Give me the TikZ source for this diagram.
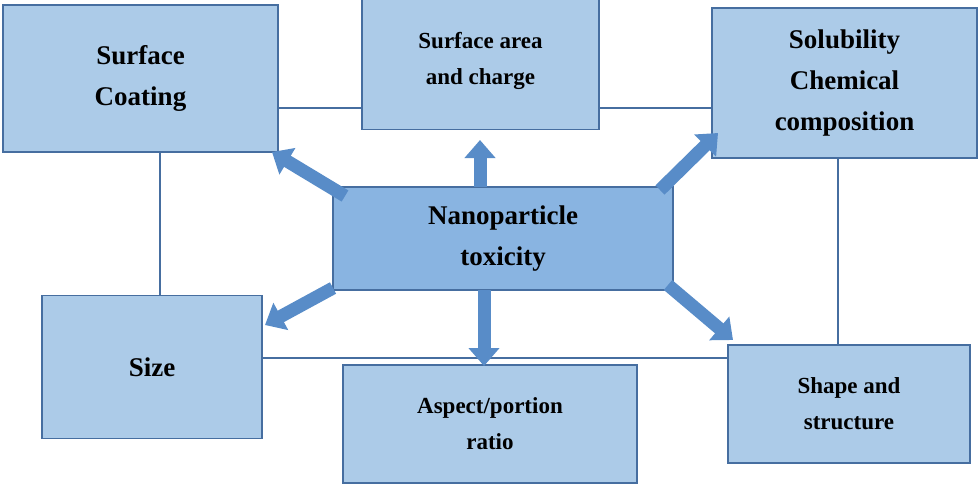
\documentclass[tikz,border=0pt]{standalone}
\usepackage{fontspec}
\setmainfont{Liberation Serif}
\usetikzlibrary{arrows.meta}
\definecolor{boxfill}{RGB}{172,203,232}
\definecolor{midfill}{RGB}{137,180,225}
\definecolor{boxline}{RGB}{70,110,160}
\definecolor{arr}{RGB}{88,140,200}
\tikzset{
 bx/.style={draw=boxline,line width=1.5pt,fill=boxfill,align=center,font=\bfseries\fontsize{27}{41}\selectfont},
 sm/.style={font=\bfseries\fontsize{23}{36}\selectfont},
 ln/.style={draw=boxline,line width=1.5pt},
 ar/.style={draw=arr,line width=13pt,-{Triangle[length=18pt,width=30pt]}}
}
\begin{document}
\begin{tikzpicture}[x=1pt,y=-1pt]
\useasboundingbox (0,0) rectangle (980,488);
\coordinate (c1) at (160,152); \coordinate (c2) at (160,310);
\coordinate (d1) at (838,155); \coordinate (d2) at (838,345);
\draw[ln] (278,108) -- (362,108);
\draw[ln] (599,108) -- (712,108);
\draw[ln] (c1) -- (c2);
\draw[ln] (d1) -- (d2);
\draw[ln] (262,358) -- (728,358);
\node[bx,minimum width=275,minimum height=147] (sc) at (140.5,78.5) {Surface\\Coating};
\node[bx,sm,minimum width=237,minimum height=137] (sa) at (480.5,61) {Surface area\\and charge};
\node[bx,minimum width=265,minimum height=150] (so) at (844.5,83) {Solubility\\Chemical\\composition};
\node[bx,minimum width=220,minimum height=143] (sz) at (152,367) {Size};
\node[bx,sm,minimum width=294,minimum height=118] (ap) at (490,424) {Aspect/portion\\ratio};
\node[bx,sm,minimum width=242,minimum height=118] (sh) at (849,404) {Shape and\\structure};
\node[bx,fill=midfill,minimum width=340,minimum height=103] (np) at (503,238.5) {Nanoparticle\\toxicity};
\draw[ar] (345,196) -- (272,152);
\draw[ar] (480,187) -- (480,140);
\draw[ar] (660,190) -- (718,133);
\draw[ar] (333,288) -- (265,325);
\draw[ar] (484,290) -- (484,366);
\draw[ar] (668,285) -- (733,340);
\end{tikzpicture}
\end{document}
